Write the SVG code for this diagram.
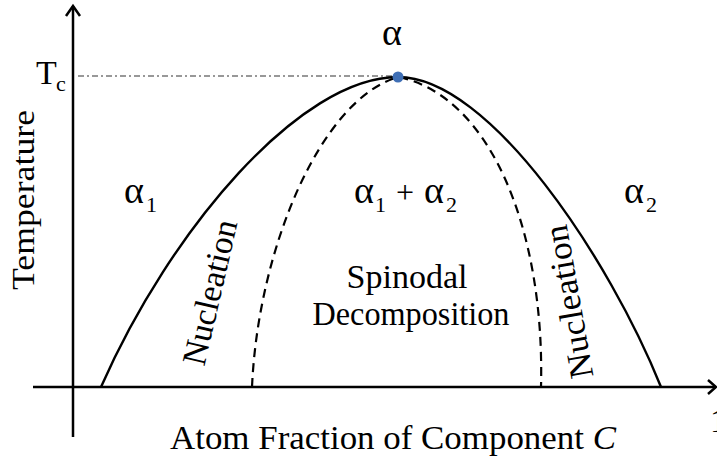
<svg xmlns="http://www.w3.org/2000/svg" width="717" height="461" viewBox="0 0 717 461">
<style>
.t{font-family:"Liberation Serif","Times New Roman",serif;fill:#000;}
.ax{stroke:#000;stroke-width:2.5;fill:none;}
.cv{stroke:#000;stroke-width:2.4;fill:none;}
.dash{stroke:#000;stroke-width:2.2;fill:none;stroke-dasharray:9 6;}
.g{font-size:38px;}
.s{font-size:22px;}
</style>
<rect width="717" height="461" fill="#fff"/>
<g id="axes">
<line class="ax" x1="73" y1="437" x2="73" y2="6"/>
<polyline class="ax" points="66,16 73,6 80,16"/>
<line class="ax" x1="33" y1="387" x2="716" y2="387"/>
<polyline class="ax" points="708,380 716,387 708,394"/>
</g>
<g id="connectors">
<line x1="78" y1="76" x2="392" y2="76" stroke="#333" stroke-width="1.2" stroke-dasharray="6 3 2 3"/>
<path class="cv" d="M101,387 C170,230 300,77 398,77 C490,77 610,260 661,387"/>
<path class="dash" d="M252,387 C258,250 320,100 398,77 C490,95 545,230 541,387"/>
</g>
<g id="peak"><circle cx="398" cy="77" r="5.5" fill="#3F6FB5"/></g>
<g id="labels">
<text class="t" x="36" y="84" font-size="34">T</text>
<text class="t s" x="56" y="91">c</text>
<text class="t g" x="382" y="45">α</text>
<text class="t g" x="124" y="203">α</text>
<text class="t s" x="146" y="212">1</text>
<text class="t g" x="354" y="203">α</text>
<text class="t s" x="375" y="212">1</text>
<text class="t" x="396" y="203" font-size="32">+</text>
<text class="t g" x="424" y="203">α</text>
<text class="t s" x="446" y="212">2</text>
<text class="t g" x="624" y="203">α</text>
<text class="t s" x="646" y="212">2</text>
<text class="t" x="407" y="288" font-size="34" text-anchor="middle" textLength="121" lengthAdjust="spacingAndGlyphs">Spinodal</text>
<text class="t" x="411" y="325" font-size="34" text-anchor="middle" textLength="197" lengthAdjust="spacingAndGlyphs">Decomposition</text>
<text class="t" font-size="34" text-anchor="middle" textLength="148" lengthAdjust="spacingAndGlyphs" transform="translate(221,295) rotate(-77)">Nucleation</text>
<text class="t" font-size="34" text-anchor="middle" textLength="155" lengthAdjust="spacingAndGlyphs" transform="translate(580,300) rotate(-100)">Nucleation</text>
<text class="t" font-size="32" text-anchor="middle" textLength="180" lengthAdjust="spacingAndGlyphs" transform="translate(34,200) rotate(-90)">Temperature</text>
<text class="t" x="170" y="449" font-size="34" textLength="446" lengthAdjust="spacingAndGlyphs">Atom Fraction of Component <tspan font-style="italic">C</tspan></text>
<text class="t" x="710" y="432" font-size="34">1</text>
</g>
</svg>
